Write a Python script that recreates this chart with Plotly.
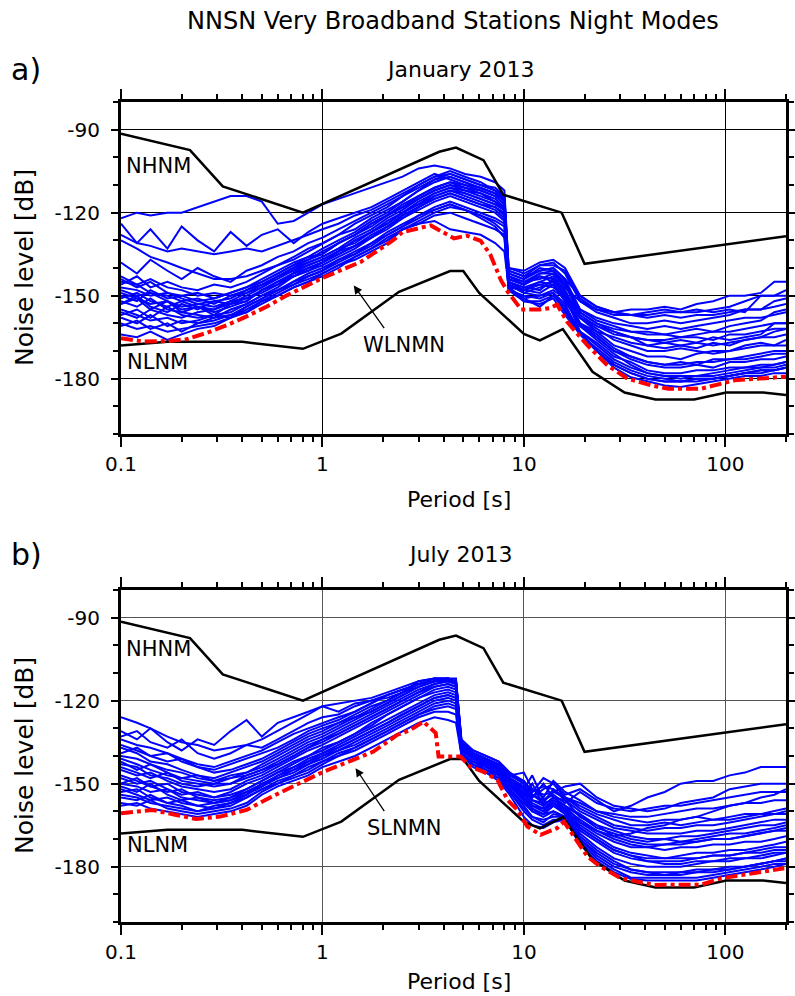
import numpy as np
import plotly.graph_objects as go

# ---------------- data ----------------
period_jan = [0.1, 0.12, 0.14, 0.17, 0.2, 0.24, 0.29, 0.35, 0.42, 0.5, 0.6, 0.72, 0.85,
              1.0, 1.2, 1.45, 1.75, 2.1, 2.5, 3.0, 3.6, 4.3, 5.1, 6.1, 7.2, 8.0,
              8.4, 10, 12, 14, 16,
              19, 23, 28, 34, 41, 50, 60, 72, 87, 105, 125, 150, 175, 200]
period_jul = [0.1, 0.12, 0.14, 0.17, 0.2, 0.24, 0.29, 0.35, 0.42, 0.5, 0.6, 0.72, 0.85,
              1.0, 1.2, 1.45, 1.75, 2.1, 2.5, 3.0, 3.6, 4.2, 4.6,
              4.9, 5.6, 6.5, 7.5, 8.5, 10, 11, 12.5, 14, 16,
              19, 23, 28, 34, 41, 50, 60, 72, 87, 105, 125, 150, 175, 200]

jan_01 = [-164,-165,-163,-166,-164,-162,-161,-158,-155,-152,-149,-146,-144,
          -142,-139,-137,-134,-131,-126,-124,-123,-126,-127,-128,-131,-134,
          -147,-152,-153,-151,-157,
          -164,-170,-176,-179.5,-181,-182.5,-183,-182,-181,-180,-179,-179,-178,-178]
jan_02 = [-158,-160,-157,-161,-159,-160,-158,-157,-156,-152,-150,-147,-145,
          -143,-140,-136,-133,-130,-126,-124,-121,-120,-122,-124,-126,-128,
          -148,-150,-151,-149,-156,
          -163,-170,-175,-178,-180,-181,-181,-180,-180,-179,-178,-177,-177,-176]
jan_03 = [-155,-157,-159,-158,-160,-159,-157,-158,-154,-151,-148,-146,-143,
          -141,-137,-135,-131,-128,-125,-121,-119,-117,-119,-121,-123,-125,
          -146,-149,-147,-146,-152,
          -160,-165,-170,-173,-175,-176,-176,-175,-176,-174,-174,-173,-173,-172]
jan_04 = [-152,-154,-151,-155,-156,-157,-158,-155,-153,-150,-147,-143,-141,
          -139,-136,-133,-129,-126,-122,-119,-116,-114,-116,-118,-120,-123,
          -145,-147,-148,-144,-150,
          -158,-163,-168,-170,-172,-172,-173,-171,-170,-170,-169,-168,-168,-168]
jan_05 = [-149,-151,-153,-152,-155,-154,-156,-154,-152,-148,-145,-142,-139,
          -137,-134,-130,-127,-123,-120,-116,-113,-111,-113,-115,-117,-119,
          -144,-146,-143,-145,-149,
          -156,-160,-163,-165,-166,-166,-165,-165,-166,-164,-164,-163,-162,-162]
jan_06 = [-147,-148,-150,-149,-151,-153,-152,-151,-148,-145,-142,-139,-137,
          -135,-131,-128,-124,-121,-117,-114,-111,-109,-110,-112,-114,-117,
          -143,-145,-144,-142,-147,
          -152,-156,-158,-160,-160,-159,-160,-159,-158,-157,-155,-155,-154,-153]
jan_07 = [-153,-150,-154,-156,-153,-155,-152,-153,-150,-147,-144,-141,-138,
          -136,-133,-131,-127,-124,-120,-117,-114,-112,-114,-116,-118,-121,
          -147,-148,-146,-147,-150,
          -163,-167,-172,-174,-177,-178,-178,-177,-177,-176,-176,-175,-175,-174]
jan_08 = [-156,-158,-155,-157,-158,-156,-155,-152,-151,-148,-145,-143,-140,
          -138,-135,-132,-129,-125,-122,-118,-115,-113,-115,-117,-118,-120,
          -146,-149,-150,-148,-151,
          -161,-166,-171,-175,-178,-179,-180,-179,-179,-178,-177,-176,-176,-175]
jan_09 = [-145,-146,-144,-147,-148,-150,-149,-150,-148,-146,-143,-140,-138,
          -136,-133,-129,-126,-122,-119,-115,-112,-110,-112,-113,-115,-118,
          -142,-144,-140,-141,-145,
          -155,-158,-160,-161,-162,-161,-162,-161,-160,-159,-158,-158,-157,-156]
jan_10 = [-150,-152,-148,-151,-150,-152,-151,-149,-147,-144,-141,-138,-136,
          -133,-130,-127,-123,-120,-116,-112,-108,-106,-108,-110,-112,-115,
          -141,-143,-141,-140,-144,
          -150,-154,-156,-157,-157,-156,-156,-156,-155,-154,-152,-150,-150,-150]
jan_11 = [-146,-143,-147,-145,-147,-148,-146,-147,-145,-142,-139,-137,-134,
          -131,-128,-124,-121,-118,-114,-110,-107,-105,-107,-109,-112,-114,
          -140,-142,-139,-138,-142,
          -152,-155,-156,-155,-155,-154,-155,-153,-152,-150,-150,-149,-145,-145]
jan_12 = [-122,-120,-121,-120,-120,-118,-116,-114,-114,-116,-124,-123,-120,
          -117,-115,-113,-111,-109,-107,-104,-103,-104,-106,-107,-109,-112,
          -140,-141,-138,-137,-140,
          -150,-154,-156,-157,-156,-155,-156,-155,-156,-155,-156,-150,-150,-148]
jan_13 = [-124,-131,-126,-133,-125,-130,-134,-127,-132,-128,-126,-131,-127,
          -124,-122,-120,-118,-115,-112,-109,-106,-108,-110,-111,-113,-116,
          -143,-145,-142,-141,-146,
          -157,-161,-163,-165,-168,-169,-168,-169,-167,-168,-166,-165,-163,-162]
jan_14 = [-130,-133,-136,-138,-140,-142,-144,-144,-143,-141,-139,-136,-133,
          -131,-128,-126,-122,-119,-116,-112,-109,-107,-109,-111,-113,-116,
          -144,-146,-143,-144,-148,
          -158,-162,-166,-168,-170,-170,-169,-170,-171,-170,-168,-167,-168,-166]
jan_15 = [-128,-131,-132,-134,-133,-134,-135,-134,-133,-134,-132,-130,-128,
          -126,-124,-121,-119,-116,-113,-110,-107,-106,-108,-110,-111,-114,
          -142,-144,-141,-140,-144,
          -155,-159,-161,-163,-164,-164,-165,-164,-163,-163,-162,-161,-160,-160]
jan_16 = [-143,-146,-149,-150,-152,-151,-153,-150,-149,-147,-143,-140,-137,
          -134,-131,-128,-124,-121,-118,-115,-112,-110,-111,-113,-116,-118,
          -145,-147,-145,-143,-148,
          -160,-164,-169,-172,-174,-175,-175,-174,-174,-173,-173,-172,-171,-171]
jan_17 = [-157,-155,-158,-154,-157,-158,-157,-156,-153,-150,-148,-145,-142,
          -140,-137,-134,-131,-127,-124,-121,-118,-116,-118,-120,-122,-124,
          -147,-151,-150,-149,-153,
          -164,-169,-174,-177,-179,-180,-181,-180,-180,-179,-178,-178,-177,-176]
jan_18 = [-151,-149,-152,-154,-152,-154,-155,-153,-151,-149,-146,-143,-141,
          -138,-135,-132,-129,-125,-121,-118,-114,-112,-113,-115,-117,-119,
          -146,-148,-149,-146,-151,
          -160,-163,-165,-167,-168,-167,-168,-167,-168,-167,-166,-165,-165,-164]
jan_19 = [-160,-162,-161,-163,-162,-161,-160,-158,-156,-153,-150,-147,-145,
          -142,-139,-136,-133,-129,-126,-123,-120,-118,-119,-121,-124,-127,
          -148,-152,-152,-150,-155,
          -164,-170,-175,-178,-180,-181,-181,-181,-180,-179,-178,-177,-177,-176]
jan_20 = [-148,-150,-149,-152,-154,-153,-154,-152,-149,-146,-143,-141,-139,
          -137,-134,-130,-127,-124,-120,-117,-113,-111,-112,-114,-116,-119,
          -145,-148,-146,-145,-149,
          -158,-161,-164,-165,-166,-167,-166,-167,-165,-166,-165,-164,-160,-160]
jan_21 = [-153,-151,-155,-152,-156,-154,-157,-153,-152,-148,-146,-142,-140,
          -138,-134,-132,-128,-125,-121,-118,-115,-113,-115,-117,-119,-122,
          -146,-148,-145,-146,-150,
          -161,-165,-170,-172,-174,-175,-174,-175,-173,-173,-172,-171,-170,-170]
jan_22 = [-144,-147,-145,-149,-150,-149,-151,-149,-147,-145,-142,-139,-136,
          -135,-131,-128,-125,-121,-118,-114,-111,-109,-111,-112,-114,-117,
          -143,-146,-142,-142,-146,
          -156,-160,-162,-163,-163,-164,-163,-162,-163,-161,-160,-159,-156,-155]
jan_23 = [-161,-159,-162,-160,-163,-160,-159,-157,-154,-151,-148,-145,-143,
          -141,-138,-135,-132,-128,-125,-122,-119,-117,-119,-122,-125,-129,
          -148,-151,-154,-150,-154,
          -163,-168,-173,-176,-178,-179,-179,-179,-178,-177,-176,-176,-175,-174]
jan_24 = [-138,-142,-137,-141,-144,-140,-143,-145,-141,-139,-136,-134,-131,
          -129,-126,-123,-120,-117,-114,-111,-108,-107,-109,-111,-113,-115,
          -141,-143,-139,-139,-141,
          -151,-155,-157,-157,-158,-157,-158,-157,-157,-156,-155,-155,-152,-151]

jul_01 = [-158,-157,-159,-160,-161,-162,-161,-160,-158,-154,-151,-149,-147,
          -144,-142,-140,-137,-134,-131,-128,-126,-127,-128,
          -139.5,-144,-146,-149,-154,-162,-165,-166,-164,-163,
          -172,-178,-182,-184.5,-185,-185,-185,-185,-184,-183,-182,-181,-180,-179]
jul_02 = [-155,-156,-154,-157,-158,-160,-159,-158,-155,-152,-149,-147,-144,
          -142,-139,-137,-134,-131,-128,-125,-123,-122,-123,
          -139,-142,-145,-147,-152,-158,-162,-163,-162,-162,
          -170,-176,-180,-182,-183,-183,-183,-182,-182,-181,-180,-179,-178,-177]
jul_03 = [-152,-154,-156,-155,-157,-158,-157,-156,-154,-150,-148,-145,-143,
          -140,-138,-135,-132,-129,-126,-123,-120,-119,-120,
          -138,-141,-144,-146,-151,-156,-160,-161,-158,-161,
          -168,-173,-177,-179,-180,-180,-180,-179,-178,-178,-177,-177,-176,-175]
jul_04 = [-150,-151,-153,-152,-155,-156,-157,-155,-152,-149,-146,-144,-141,
          -139,-136,-133,-130,-127,-124,-121,-118,-117,-118,
          -137,-140,-143,-145,-150,-155,-158,-159,-156,-159,
          -166,-170,-174,-176,-177,-177,-176,-175,-175,-174,-174,-173,-172,-171]
jul_05 = [-147,-149,-151,-150,-153,-154,-155,-153,-150,-148,-145,-142,-140,
          -137,-135,-132,-129,-125,-122,-119,-116,-115,-116,
          -136,-140,-142,-145,-149,-154,-150,-158,-155,-158,
          -164,-168,-171,-173,-173,-172,-172,-171,-170,-170,-169,-168,-167,-167]
jul_06 = [-145,-147,-146,-149,-151,-152,-153,-152,-149,-147,-144,-141,-138,
          -136,-133,-130,-127,-124,-121,-118,-115,-114,-115,
          -136,-139,-141,-144,-148,-152,-156,-157,-152,-156,
          -162,-165,-167,-169,-170,-170,-169,-169,-168,-167,-166,-165,-165,-164]
jul_07 = [-143,-144,-147,-148,-150,-151,-150,-148,-147,-145,-142,-139,-136,
          -134,-131,-128,-125,-122,-119,-116,-114,-113,-114,
          -137,-140,-143,-145,-150,-155,-158,-160,-157,-160,
          -165,-169,-173,-175,-176,-177,-177,-177,-176,-176,-175,-175,-174,-174]
jul_08 = [-141,-143,-145,-147,-148,-149,-150,-150,-148,-146,-143,-140,-137,
          -135,-132,-129,-126,-123,-120,-117,-114,-113,-113,
          -135,-139,-142,-144,-148,-152,-155,-152,-150,-155,
          -159,-162,-165,-166,-167,-166,-166,-165,-165,-164,-163,-162,-161,-161]
jul_09 = [-140,-141,-143,-145,-146,-148,-149,-147,-146,-144,-141,-138,-135,
          -133,-130,-127,-124,-121,-118,-115,-113,-112,-113,
          -136,-139,-141,-143,-147,-146,-152,-155,-149,-153,
          -156,-160,-162,-163,-164,-163,-163,-162,-163,-162,-161,-161,-160,-159]
jul_10 = [-137,-139,-142,-143,-145,-147,-148,-146,-144,-142,-139,-136,-133,
          -131,-128,-125,-122,-120,-117,-114,-112,-112,-112,
          -135,-138,-140,-142,-146,-150,-152,-154,-153,-151,
          -150,-155,-158,-159,-160,-159,-157,-156,-155,-152,-151,-150,-150,-150]
jul_11 = [-136,-138,-140,-139,-142,-144,-145,-143,-141,-139,-137,-134,-131,
          -129,-127,-124,-121,-118,-116,-114,-113,-113,-114,
          -136,-139,-141,-143,-147,-150,-153,-148,-150,-154,
          -152,-156,-160,-158,-155,-153,-150,-149,-149,-147,-146,-144,-144,-144]
jul_12 = [-131,-134,-130,-135,-138,-134,-136,-131,-127,-133,-128,-126,-124,
          -122,-124,-121,-120,-119,-117,-113,-112,-113,-113,
          -134,-138,-140,-142,-146,-149,-154,-157,-156,-158,
          -161,-165,-169,-171,-172,-172,-171,-171,-170,-170,-169,-168,-167,-166]
jul_13 = [-126,-128,-130,-133,-135,-136,-138,-137,-136,-134,-131,-128,-125,
          -122,-121,-120,-119,-117,-115,-113,-112,-112,-113,
          -137,-140,-143,-146,-151,-156,-159,-161,-160,-162,
          -166,-170,-174,-176,-178,-179,-179,-178,-178,-177,-177,-176,-175,-175]
jul_14 = [-134,-136,-137,-139,-141,-143,-144,-142,-140,-138,-135,-132,-130,
          -128,-126,-124,-121,-118,-116,-114,-113,-112,-114,
          -136,-139,-142,-144,-148,-151,-154,-156,-153,-155,
          -158,-161,-163,-165,-165,-164,-165,-164,-163,-163,-162,-161,-161,-160]
jul_15 = [-148,-150,-149,-152,-154,-153,-155,-154,-152,-149,-146,-143,-140,
          -138,-135,-132,-128,-125,-122,-119,-117,-116,-117,
          -138,-141,-143,-146,-150,-154,-157,-159,-157,-159,
          -163,-167,-170,-172,-173,-174,-173,-173,-172,-172,-171,-171,-170,-169]
jul_16 = [-153,-152,-155,-157,-156,-158,-159,-157,-154,-151,-148,-146,-143,
          -141,-138,-136,-133,-130,-127,-124,-121,-120,-121,
          -139,-142,-144,-147,-152,-157,-160,-162,-160,-162,
          -169,-174,-178,-181,-182,-182,-182,-181,-181,-180,-180,-179,-178,-178]
jul_17 = [-144,-146,-148,-146,-149,-150,-151,-150,-147,-145,-143,-140,-137,
          -134,-132,-129,-126,-123,-120,-117,-115,-114,-115,
          -136,-140,-142,-145,-149,-152,-147,-156,-154,-157,
          -153,-157,-159,-160,-159,-158,-158,-157,-156,-155,-154,-153,-153,-153]
jul_18 = [-150,-148,-151,-153,-152,-155,-156,-155,-153,-150,-147,-144,-142,
          -139,-137,-134,-131,-128,-125,-122,-119,-118,-119,
          -138,-141,-144,-146,-151,-155,-159,-161,-158,-160,
          -164,-167,-169,-168,-166,-165,-163,-162,-160,-158,-157,-155,-154,-152]
jul_19 = [-157,-158,-156,-159,-160,-161,-160,-159,-157,-153,-150,-148,-146,
          -143,-140,-138,-135,-132,-129,-126,-124,-124,-125,
          -140,-143,-146,-148,-153,-160,-163,-165,-163,-163,
          -171,-177,-181,-184,-184,-184,-184,-184,-183,-182,-181,-180,-179,-179]
jul_20 = [-139,-137,-140,-142,-141,-144,-146,-145,-143,-141,-138,-135,-132,
          -130,-128,-126,-123,-120,-117,-115,-113,-112,-114,
          -136,-139,-141,-144,-148,-151,-155,-150,-155,-156,
          -160,-163,-166,-167,-168,-168,-168,-167,-167,-166,-165,-164,-163,-163]
jul_21 = [-151,-153,-150,-154,-156,-155,-157,-156,-153,-151,-147,-145,-142,
          -140,-137,-134,-131,-128,-125,-122,-119,-118,-119,
          -137,-141,-143,-146,-151,-153,-158,-160,-157,-160,
          -167,-171,-175,-177,-178,-178,-178,-177,-176,-176,-175,-174,-173,-173]
jul_22 = [-142,-145,-143,-146,-148,-147,-149,-148,-146,-143,-140,-137,-134,
          -132,-129,-126,-124,-121,-118,-115,-113,-112,-113,
          -135,-139,-141,-143,-147,-149,-153,-151,-152,-155,
          -157,-160,-161,-162,-162,-161,-160,-159,-159,-158,-157,-157,-156,-156]
jul_23 = [-133,-131,-135,-137,-134,-139,-141,-139,-136,-137,-134,-131,-128,
          -126,-125,-122,-120,-118,-116,-114,-112,-112,-113,
          -136,-139,-142,-145,-149,-153,-156,-158,-155,-158,
          -162,-166,-168,-170,-171,-170,-171,-170,-169,-168,-168,-167,-166,-165]
jul_24 = [-154,-155,-157,-158,-159,-160,-158,-157,-155,-152,-150,-147,-145,
          -142,-140,-137,-134,-131,-128,-125,-122,-121,-122,
          -139,-143,-145,-148,-153,-159,-162,-164,-161,-162,
          -170,-175,-179,-181,-182,-183,-182,-182,-181,-181,-180,-179,-178,-177]

jan_stations = [jan_01, jan_02, jan_03, jan_04, jan_05, jan_06, jan_07, jan_08, jan_09, jan_10,
                jan_11, jan_12, jan_13, jan_14, jan_15, jan_16, jan_17, jan_18, jan_19, jan_20,
                jan_21, jan_22, jan_23, jan_24]
jul_stations = [jul_01, jul_02, jul_03, jul_04, jul_05, jul_06, jul_07, jul_08, jul_09, jul_10,
                jul_11, jul_12, jul_13, jul_14, jul_15, jul_16, jul_17, jul_18, jul_19, jul_20,
                jul_21, jul_22, jul_23, jul_24]
for _s in jan_stations:
    assert len(_s) == len(period_jan)
for _s in jul_stations:
    assert len(_s) == len(period_jul)

# lowest-noise mode curves (red)
wlnmn_period = [0.1, 0.13, 0.17, 0.21, 0.265, 0.335, 0.42, 0.53, 0.67, 0.84, 1.0, 1.55, 2.26, 2.5,
                3.45, 4.5, 5.2, 6.1, 6.8, 7.7, 8.3, 9.7, 12, 13.5, 14.6, 16.4, 20.7, 26, 32.7,
                42.7, 52, 76, 95, 111, 200]
wlnmn_db = [-165.4, -166.6, -166.4, -165.8, -163.5, -160.7, -157.5, -153.9, -149.8, -146.2, -143.6,
            -137.8, -129.8, -127.0, -124.6, -129.3, -128.3, -130.2, -135.0, -144.5, -148.5, -155.0,
            -155.0, -154.5, -153.2, -159.5, -168.0, -175.2, -180.0, -182.4, -183.6, -183.6, -181.8,
            -180.6, -179.3]
slnmn_period = [0.1, 0.143, 0.188, 0.236, 0.31, 0.42, 0.55, 0.745, 1.01, 1.42, 1.79, 2.35, 2.73,
                3.17, 3.45, 3.65, 3.77, 4.33, 4.85, 5.4, 6.3, 7.4, 8.3, 9.3, 10.4, 12.1, 14.6,
                15.8, 20.7, 24, 30.3, 44.3, 76, 95.5, 134, 196]
slnmn_db = [-160.7, -159.5, -161.3, -162.8, -161.9, -159.5, -155.0, -150.5, -145.7, -141.4, -138.4,
            -132.4, -130.6, -127.6, -130.0, -131.7, -140.2, -140.2, -140.2, -143.8, -145.7, -148.7,
            -155.9, -159.5, -165.5, -168.5, -166.1, -163.7, -176.4, -180.0, -184.2, -186.6, -186.5,
            -184.2, -182.4, -180.6]

# Peterson (1993) noise models
nhnm_period = [0.1, 0.22, 0.32, 0.8, 3.8, 4.6, 6.3, 7.9, 15.4, 20, 200]
nhnm_db = [-91.5, -97.4, -110.5, -120.0, -98.0, -96.5, -101.0, -113.5, -120.0, -138.5, -128.5]
nlnm_period = [0.1, 0.17, 0.4, 0.8, 1.24, 2.4, 4.3, 5.0, 6.0, 10.0, 12.0, 15.6, 21.9, 31.6,
               45.0, 70.0, 101.0, 154.0, 200]
nlnm_db = [-168.0, -166.7, -166.7, -169.2, -163.7, -148.6, -141.1, -141.1, -149.0, -163.8,
           -166.2, -162.1, -177.5, -185.0, -187.5, -187.5, -185.0, -185.0, -185.9]

y_major = [-180, -150, -120, -90]
x_major = [0.1, 1, 10, 100]
x_major_text = ['0.1', '1', '10', '100']

# ---------------- figure ----------------
W, H = 795, 996
ML, MR, MT, MB = 121, 9, 102, 74
PH = H - MT - MB
FONT = 'DejaVu Sans'

fig = go.Figure()

panels = [
    dict(stations=jan_stations, grid=period_jan, red_p=wlnmn_period, red_v=wlnmn_db, xa='x', ya='y'),
    dict(stations=jul_stations, grid=period_jul, red_p=slnmn_period, red_v=slnmn_db, xa='x2', ya='y2'),
]
for pn in panels:
    for st in pn['stations']:
        fig.add_trace(go.Scatter(x=pn['grid'], y=st, mode='lines',
                                 line=dict(color='#0000ff', width=2),
                                 xaxis=pn['xa'], yaxis=pn['ya'], showlegend=False, hoverinfo='skip'))
    fig.add_trace(go.Scatter(x=nhnm_period, y=nhnm_db, mode='lines', line=dict(color='black', width=2.5),
                             xaxis=pn['xa'], yaxis=pn['ya'], showlegend=False, hoverinfo='skip'))
    fig.add_trace(go.Scatter(x=nlnm_period, y=nlnm_db, mode='lines', line=dict(color='black', width=2.5),
                             xaxis=pn['xa'], yaxis=pn['ya'], showlegend=False, hoverinfo='skip'))
    fig.add_trace(go.Scatter(x=pn['red_p'], y=pn['red_v'], mode='lines',
                             line=dict(color='#ff0000', width=4, dash='12px,4px,4px,4px'),
                             xaxis=pn['xa'], yaxis=pn['ya'], showlegend=False, hoverinfo='skip'))

minor_x = [v * d for d in (0.1, 1, 10) for v in range(2, 10)] + [200]
minor_y = list(range(-200, -79, 10))

def xcfg(anchor, gridcolor):
    return dict(type='log', range=[-1, np.log10(200)], tickmode='array', tickvals=x_major,
                ticktext=x_major_text, ticks='outside', ticklen=10, tickwidth=1.5, tickcolor='black',
                minor=dict(tickmode='array', tickvals=minor_x, ticks='outside', ticklen=5, tickwidth=1.5,
                           tickcolor='black', showgrid=False),
                showgrid=True, gridcolor=gridcolor, gridwidth=1,
                showline=True, linecolor='black', linewidth=3, mirror='ticks',
                tickfont=dict(family=FONT, size=20, color='black'),
                zeroline=False, anchor=anchor, domain=[0, 1], fixedrange=True, automargin=False)

def ycfg(anchor, domain, gridcolor):
    return dict(range=[-200, -80], tickmode='array', tickvals=y_major,
                ticktext=[str(v) for v in y_major], ticks='outside', ticklen=7, tickwidth=1.5,
                tickcolor='black', ticklabelstandoff=7,
                minor=dict(tickmode='array', tickvals=minor_y, ticks='outside', ticklen=5, tickwidth=1.5,
                           tickcolor='black', showgrid=False),
                showgrid=True, gridcolor=gridcolor, gridwidth=1,
                showline=True, linecolor='black', linewidth=3, mirror='ticks',
                tickfont=dict(family=FONT, size=20, color='black'),
                zeroline=False, anchor=anchor, domain=domain, fixedrange=True, automargin=False)

dom_a = [1 - 332 / PH, 1]
dom_b = [0, 332 / PH]

def py(pix):
    """page pixel row -> paper y"""
    return (H - MB - pix) / PH

def px(pix):
    return (pix - ML) / (W - ML - MR)

def lx(pix):
    """page pixel column -> log10 period"""
    return -1 + (pix - ML) / (W - ML - MR) * (np.log10(200) + 1)

ann = []
ann.append(dict(text='NNSN Very Broadband Stations Night Modes', xref='paper', yref='paper',
                x=px(452.5), y=py(21), xanchor='center', yanchor='middle', showarrow=False,
                font=dict(family=FONT, size=24, color='black')))
for lab, sub, ytop, ya, xa, yc, xlab_y, nh_y, nl_y, nm, tip, tail, txt_y in [
        ('a)', 'January 2013', 70, 'y', 'x', 268, 499, -103.2, -174.0, 'WLNMN', (1.43, -146.3), (2.05, -162.3), -167.9),
        ('b)', 'July 2013', 554, 'y2', 'x2', 756, 981, -101.5, -172.2, 'SLNMN', (1.46, -144.4), (2.05, -160.5), -166.2)]:
    ann.append(dict(text=lab, xref='paper', yref='paper', x=px(9), y=py(ytop), xanchor='left',
                    yanchor='middle', showarrow=False, font=dict(family=FONT, size=30, color='black')))
    ann.append(dict(text=sub, xref='paper', yref='paper', x=px(460), y=py(ytop), xanchor='center',
                    yanchor='middle', showarrow=False, font=dict(family=FONT, size=22, color='black')))
    ann.append(dict(text='Noise level [dB]', xref='paper', yref='paper', x=px(24), y=py(yc),
                    xanchor='center', yanchor='middle', textangle=-90, showarrow=False,
                    font=dict(family=FONT, size=25, color='black')))
    ann.append(dict(text='Period [s]', xref='paper', yref='paper', x=px(459), y=py(xlab_y),
                    xanchor='center', yanchor='middle', showarrow=False,
                    font=dict(family=FONT, size=22, color='black')))
    ann.append(dict(text='NHNM', xref=xa, yref=ya, x=lx(124), y=nh_y, xanchor='left', yanchor='middle',
                    showarrow=False, font=dict(family=FONT, size=21, color='black')))
    ann.append(dict(text='NLNM', xref=xa, yref=ya, x=lx(125), y=nl_y, xanchor='left', yanchor='middle',
                    showarrow=False, font=dict(family=FONT, size=21, color='black')))
    ann.append(dict(text=nm, xref=xa, yref=ya, x=lx(404), y=txt_y, xanchor='center', yanchor='middle',
                    showarrow=False, font=dict(family=FONT, size=21, color='black')))
    ann.append(dict(text='', xref=xa, yref=ya, x=np.log10(tip[0]), y=tip[1],
                    axref=xa, ayref=ya, ax=np.log10(tail[0]), ay=tail[1],
                    showarrow=True, arrowhead=2, arrowsize=1.3, arrowwidth=1.3, arrowcolor='black'))

fig.update_layout(
    width=W, height=H, margin=dict(l=ML, r=MR, t=MT, b=MB, pad=0, autoexpand=False),
    paper_bgcolor='white', plot_bgcolor='white',
    xaxis=xcfg('y', 'black'), yaxis=ycfg('x', dom_a, 'black'),
    xaxis2=xcfg('y2', '#555555'), yaxis2=ycfg('x2', dom_b, '#555555'),
    annotations=ann, showlegend=False, hovermode=False,
    font=dict(family=FONT, color='black'),
)

fig.write_html('out.html', config=dict(displayModeBar=False))
